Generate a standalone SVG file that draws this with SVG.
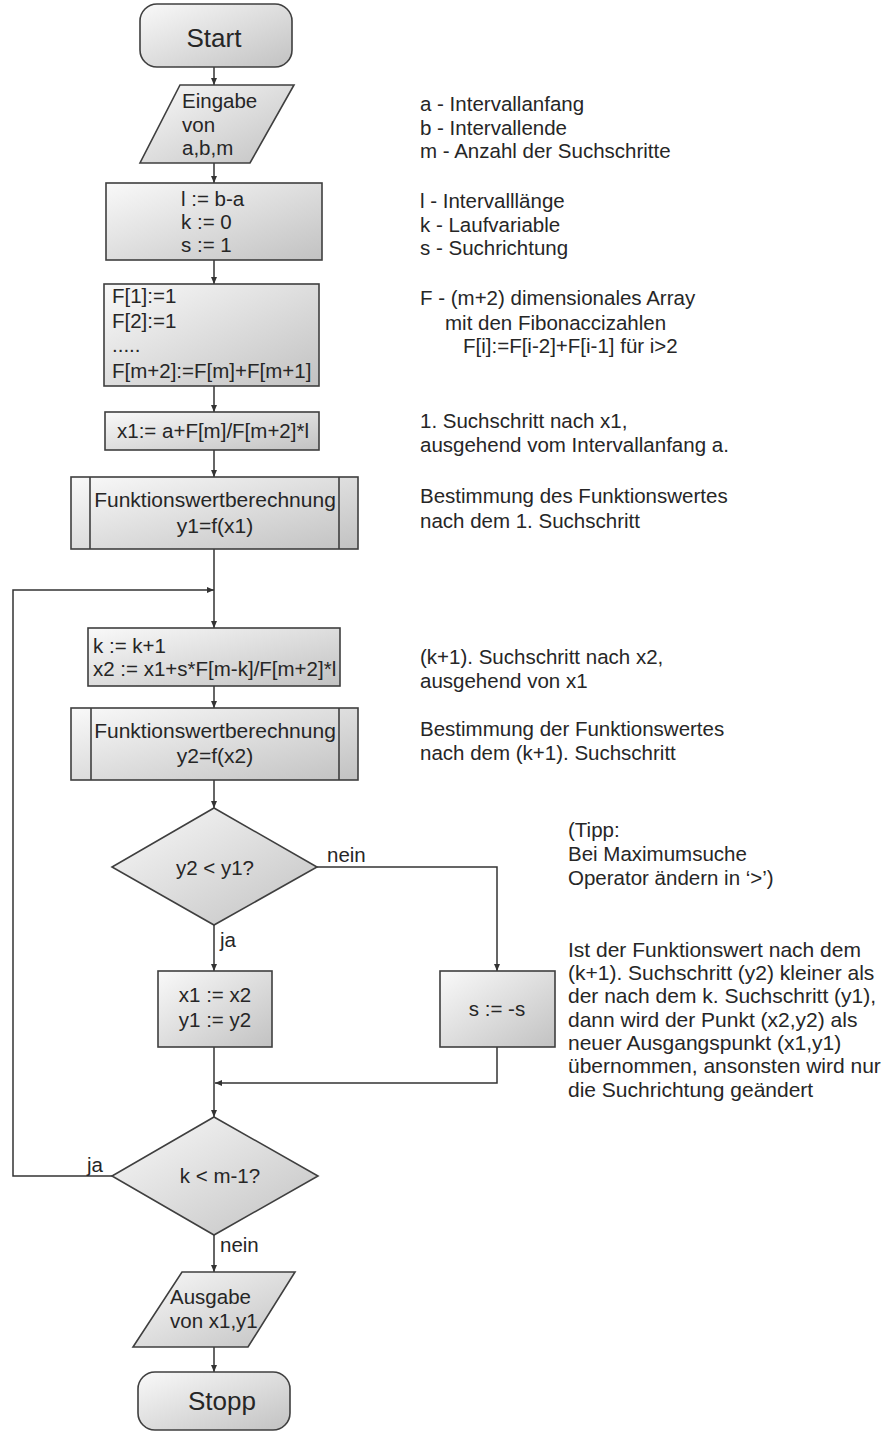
<svg xmlns="http://www.w3.org/2000/svg" width="890" height="1432" viewBox="0 0 890 1432">
<defs>
<linearGradient id="g" x1="0" y1="0" x2="1" y2="1">
<stop offset="0" stop-color="#f9f9f9"/>
<stop offset="1" stop-color="#c2c2c2"/>
</linearGradient>
<marker id="arr" markerWidth="8" markerHeight="8" refX="7" refY="4" orient="auto" markerUnits="userSpaceOnUse">
<path d="M0,1 L7,4 L0,7 Z" fill="#333"/>
</marker>
<style>
.n{fill:url(#g);stroke:#3f3f3f;stroke-width:1.6}
.l{fill:none;stroke:#3f3f3f;stroke-width:1.6}
.c{fill:none;stroke:#333;stroke-width:1.5}
text{font-family:"Liberation Sans",Arial,sans-serif;font-size:20.5px;fill:#262626}
.m{text-anchor:middle}
.t{font-size:26px}
.b{font-size:21px}
</style>
</defs>
<g id="connectors">
<path class="c" d="M214,67 V85" marker-end="url(#arr)"/>
<path class="c" d="M214,163 V183" marker-end="url(#arr)"/>
<path class="c" d="M214,260 V284" marker-end="url(#arr)"/>
<path class="c" d="M214,386 V412" marker-end="url(#arr)"/>
<path class="c" d="M214,450 V477" marker-end="url(#arr)"/>
<path class="c" d="M214,549 V628" marker-end="url(#arr)"/>
<path class="c" d="M112,1176 H13 V590 H214" marker-end="url(#arr)"/>
<path class="c" d="M214,686 V708" marker-end="url(#arr)"/>
<path class="c" d="M214,780 V808" marker-end="url(#arr)"/>
<path class="c" d="M317,867 H497 V971" marker-end="url(#arr)"/>
<path class="c" d="M214,925 V971" marker-end="url(#arr)"/>
<path class="c" d="M214,1047 V1117" marker-end="url(#arr)"/>
<path class="c" d="M497,1047 V1083 H215" marker-end="url(#arr)"/>
<path class="c" d="M214,1235 V1272" marker-end="url(#arr)"/>
<path class="c" d="M214,1347 V1372" marker-end="url(#arr)"/>
<text x="327" y="862">nein</text>
<text x="220" y="947">ja</text>
<text x="87" y="1172">ja</text>
<text x="220" y="1252">nein</text>
</g>
<g id="start">
<rect class="n" x="140" y="4" width="152" height="63" rx="17"/>
<text class="m t" x="214" y="47">Start</text>
</g>
<g id="eingabe">
<polygon class="n" points="180,85 294,85 250,163 140,163"/>
<text x="182" y="108">Eingabe</text>
<text x="182" y="132">von</text>
<text x="182" y="155">a,b,m</text>
</g>
<g id="init">
<rect class="n" x="106" y="183" width="216" height="77"/>
<text x="181" y="206">l := b-a</text>
<text x="181" y="229">k := 0</text>
<text x="181" y="252">s := 1</text>
</g>
<g id="fib">
<rect class="n" x="104" y="284" width="215" height="102"/>
<text x="112" y="303">F[1]:=1</text>
<text x="112" y="328">F[2]:=1</text>
<text x="112" y="352">.....</text>
<text x="112" y="378">F[m+2]:=F[m]+F[m+1]</text>
</g>
<g id="x1">
<rect class="n" x="105" y="412" width="214" height="38"/>
<text class="m" x="213" y="438">x1:= a+F[m]/F[m+2]*l</text>
</g>
<g id="fw1">
<rect class="n" x="71" y="477" width="287" height="72"/>
<path class="l" d="M90,477 V549 M339,477 V549"/>
<text class="m b" x="215" y="507">Funktionswertberechnung</text>
<text class="m b" x="215" y="533">y1=f(x1)</text>
</g>
<g id="step">
<rect class="n" x="88" y="628" width="252" height="58"/>
<text x="93" y="653">k := k+1</text>
<text x="93" y="676">x2 := x1+s*F[m-k]/F[m+2]*l</text>
</g>
<g id="fw2">
<rect class="n" x="71" y="708" width="287" height="72"/>
<path class="l" d="M91,708 V780 M339,708 V780"/>
<text class="m b" x="215" y="738">Funktionswertberechnung</text>
<text class="m b" x="215" y="763">y2=f(x2)</text>
</g>
<g id="cmp1">
<polygon class="n" points="214,808 317,867 214,925 112,867"/>
<text class="m" x="215" y="875">y2 &lt; y1?</text>
</g>
<g id="take">
<rect class="n" x="158" y="971" width="114" height="76"/>
<text class="m" x="215" y="1002">x1 := x2</text>
<text class="m" x="215" y="1027">y1 := y2</text>
</g>
<g id="flip">
<rect class="n" x="440" y="971" width="115" height="76"/>
<text class="m" x="497" y="1016">s := -s</text>
</g>
<g id="cmp2">
<polygon class="n" points="214,1117 318,1176 214,1235 112,1176"/>
<text class="m" x="220" y="1183">k &lt; m-1?</text>
</g>
<g id="ausgabe">
<polygon class="n" points="182,1272 295,1272 248,1347 133,1347"/>
<text x="170" y="1304">Ausgabe</text>
<text x="170" y="1328">von x1,y1</text>
</g>
<g id="stopp">
<rect class="n" x="138" y="1372" width="152" height="58" rx="17"/>
<text class="m t" x="222" y="1410">Stopp</text>
</g>
<g id="comments">
<text x="420" y="111">a - Intervallanfang</text>
<text x="420" y="135">b - Intervallende</text>
<text x="420" y="158">m - Anzahl der Suchschritte</text>
<text x="420" y="208">l  - Intervalllänge</text>
<text x="420" y="232">k - Laufvariable</text>
<text x="420" y="255">s - Suchrichtung</text>
<text x="420" y="305">F - (m+2) dimensionales Array</text>
<text x="445" y="330">mit den Fibonaccizahlen</text>
<text x="463" y="353">F[i]:=F[i-2]+F[i-1] für i&gt;2</text>
<text x="420" y="428">1. Suchschritt nach x1,</text>
<text x="420" y="452">ausgehend vom Intervallanfang a.</text>
<text x="420" y="503">Bestimmung des Funktionswertes</text>
<text x="420" y="528">nach dem 1. Suchschritt</text>
<text x="420" y="664">(k+1). Suchschritt nach x2,</text>
<text x="420" y="688">ausgehend von x1</text>
<text x="420" y="736">Bestimmung der Funktionswertes</text>
<text x="420" y="760">nach dem (k+1). Suchschritt</text>
<text x="568" y="837">(Tipp:</text>
<text x="568" y="861">Bei Maximumsuche</text>
<text x="568" y="885">Operator ändern in ‘&gt;’)</text>
<text class="b" x="568" y="957">Ist der Funktionswert nach dem</text>
<text class="b" x="568" y="980">(k+1). Suchschritt (y2) kleiner als</text>
<text class="b" x="568" y="1003">der nach dem k. Suchschritt (y1),</text>
<text class="b" x="568" y="1027">dann wird der Punkt (x2,y2) als</text>
<text class="b" x="568" y="1050">neuer Ausgangspunkt (x1,y1)</text>
<text class="b" x="568" y="1073">übernommen, ansonsten wird nur</text>
<text class="b" x="568" y="1097">die Suchrichtung geändert</text>
</g>
</svg>
